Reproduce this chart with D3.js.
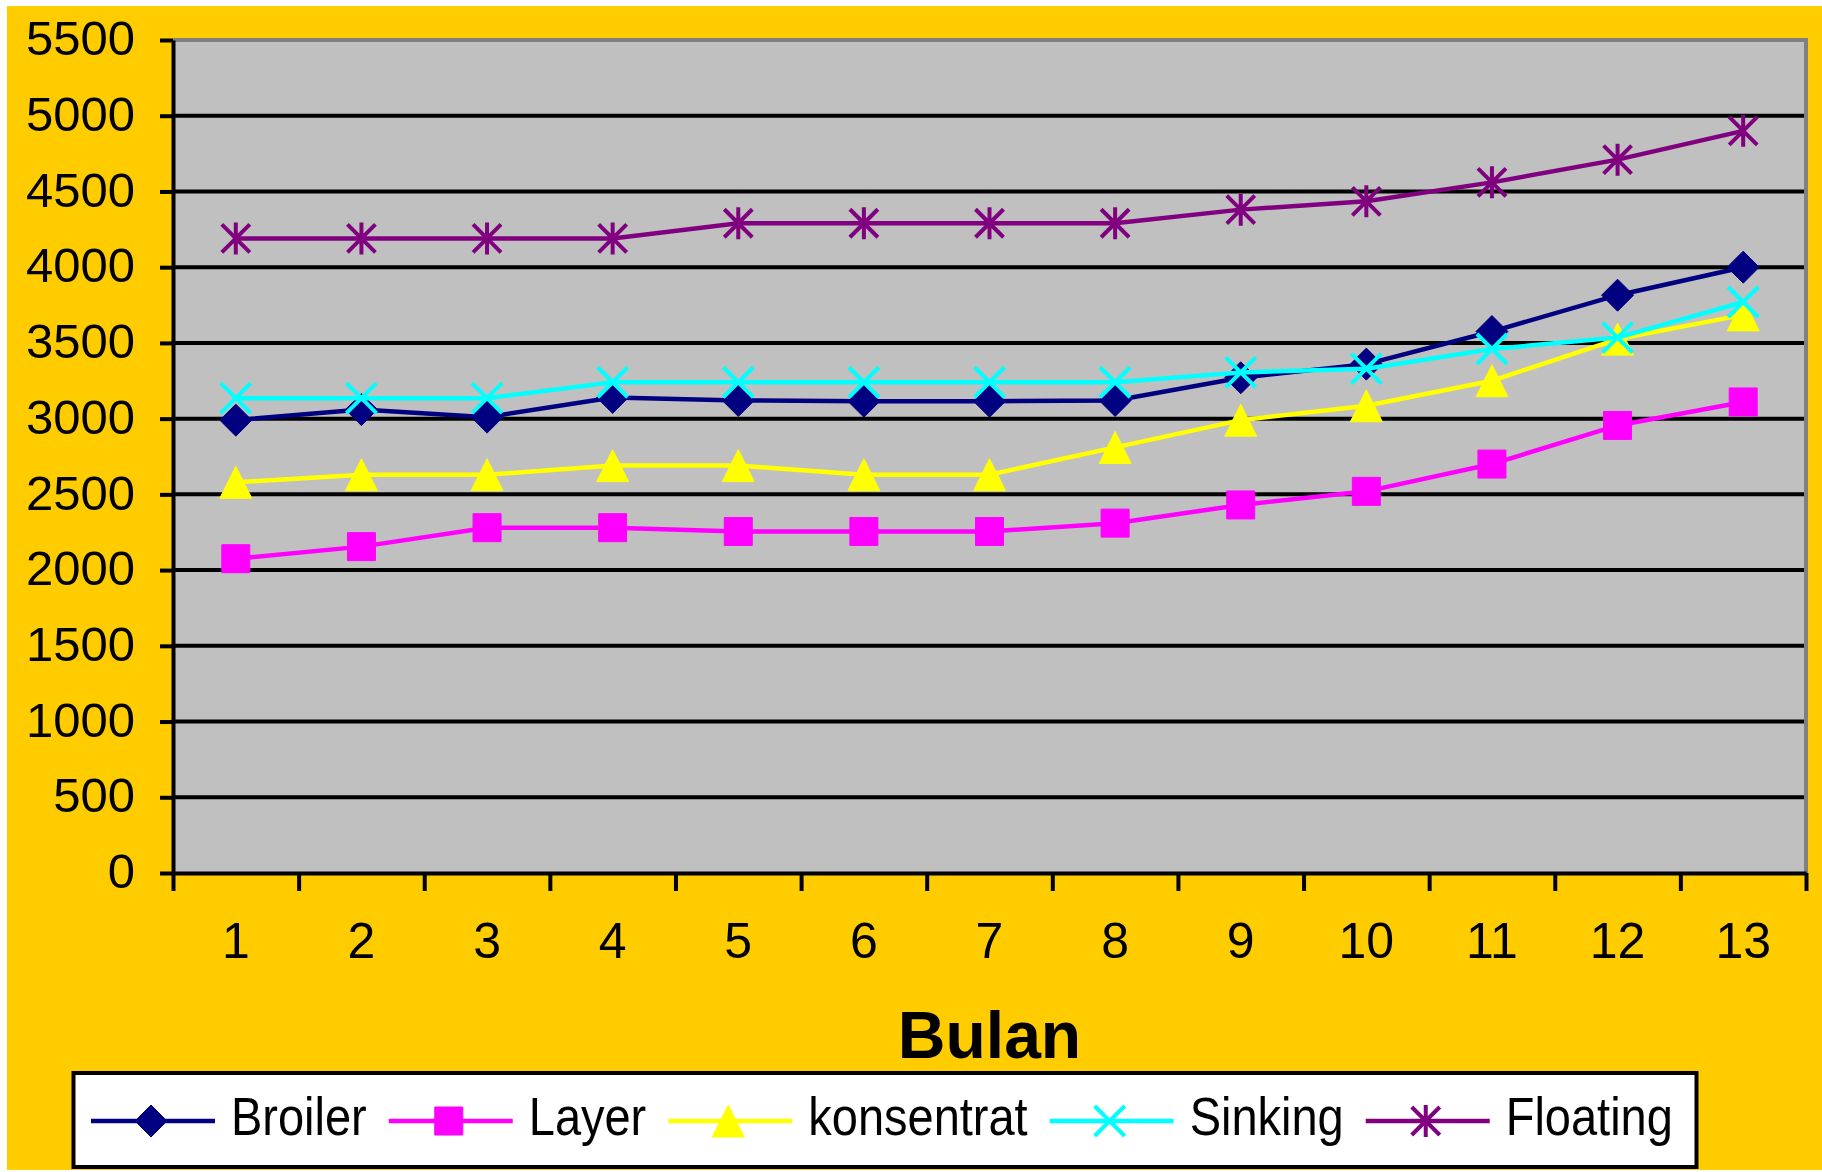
<!DOCTYPE html>
<html>
<head>
<meta charset="utf-8">
<script src="https://cdn.jsdelivr.net/npm/d3@7"></script>
<style>
  body { margin: 0; background: #fff; }
  text { font-family: "Liberation Sans", Arial, sans-serif; }
</style>
</head>
<body>
<div class="chart"></div>
<script>
// Data
const months = ["1", "2", "3", "4", "5", "6", "7", "8", "9", "10", "11", "12", "13"];
const broiler    = [2990, 3060, 3010, 3140, 3120, 3115, 3115, 3120, 3270, 3360, 3575, 3815, 4000];
const layer      = [2075, 2155, 2280, 2280, 2255, 2255, 2255, 2310, 2430, 2520, 2700, 2955, 3110];
const konsentrat = [2580, 2630, 2630, 2690, 2690, 2630, 2630, 2810, 2990, 3085, 3250, 3525, 3685];
const sinking    = [3135, 3135, 3135, 3240, 3240, 3240, 3240, 3240, 3305, 3330, 3460, 3535, 3770];
const floating   = [4190, 4190, 4190, 4190, 4290, 4290, 4290, 4290, 4380, 4435, 4560, 4710, 4900];
const seriesNames = ["Broiler", "Layer", "konsentrat", "Sinking", "Floating"];
const yTicks = [0, 500, 1000, 1500, 2000, 2500, 3000, 3500, 4000, 4500, 5000, 5500];
const xTitle = "Bulan";

const series = [
  {name: seriesNames[0], values: broiler,    color: "#000080", marker: "diamond"},
  {name: seriesNames[1], values: layer,      color: "#FF00FF", marker: "square"},
  {name: seriesNames[2], values: konsentrat, color: "#FFFF00", marker: "triangle"},
  {name: seriesNames[3], values: sinking,    color: "#00FFFF", marker: "x"},
  {name: seriesNames[4], values: floating,   color: "#800080", marker: "star"}
];

// Set up the chart
const W = 1822, H = 1172;
const margin = {top: 40, right: 16, bottom: 299, left: 173};
const width = W - margin.left - margin.right;
const height = H - margin.top - margin.bottom;

const x = d3.scaleBand().domain(months).range([0, width]);
const xEdge = d3.scaleLinear().domain([0, months.length]).range([0, width]);
const y = d3.scaleLinear().domain([0, 5500]).range([height, 0]);
const cx = (i) => x(months[i]) + x.bandwidth() / 2;

const svg = d3.select(".chart").append("svg")
    .attr("width", W)
    .attr("height", H);

// yellow chart area
svg.append("rect").attr("width", W).attr("height", H).attr("fill", "#fff");
svg.append("rect").attr("x", 7).attr("y", 6).attr("width", W - 7).attr("height", H - 8).attr("fill", "#FFCC00");

const g = svg.append("g")
    .attr("transform", "translate(" + margin.left + "," + margin.top + ")");

// plot area
g.append("rect").attr("width", width).attr("height", height).attr("fill", "#C0C0C0");
g.append("path")
    .attr("d", "M0,0H" + width + "V" + height)
    .attr("fill", "none").attr("stroke", "#808080").attr("stroke-width", 4);

// gridlines
g.append("g").selectAll("line")
    .data(yTicks.filter(t => t > 0 && t < 5500))
    .join("line")
    .attr("x1", 0).attr("x2", width - 2)
    .attr("y1", d => y(d)).attr("y2", d => y(d))
    .attr("stroke", "#000").attr("stroke-width", 4);

// y axis
const yAxis = g.append("g")
    .call(d3.axisLeft(y).tickValues(yTicks).tickFormat(d3.format("d"))
      .tickSize(13).tickSizeOuter(0).tickPadding(25));
yAxis.select(".domain").attr("stroke", "#000").attr("stroke-width", 4);
yAxis.selectAll(".tick line").attr("stroke", "#000").attr("stroke-width", 4);
yAxis.selectAll(".tick text")
    .attr("font-size", 49).attr("fill", "#000")
    .attr("font-family", "Liberation Sans, Arial, sans-serif")
    .attr("dy", "0.3em");

// x axis: ticks on category edges, labels in the middle
const xAxis = g.append("g")
    .attr("transform", "translate(0," + height + ")")
    .call(d3.axisBottom(xEdge).tickValues(d3.range(0, months.length + 1)).tickSize(18).tickSizeOuter(0).tickFormat(""));
xAxis.select(".domain").attr("stroke", "#000").attr("stroke-width", 4);
xAxis.selectAll(".tick line").attr("stroke", "#000").attr("stroke-width", 4);

g.append("g").selectAll("text")
    .data(months)
    .join("text")
    .attr("x", d => x(d) + x.bandwidth() / 2)
    .attr("y", height + 85)
    .attr("text-anchor", "middle")
    .attr("font-size", 50)
    .text(d => d);

// axis title
g.append("text")
    .attr("x", width / 2)
    .attr("y", height + 185)
    .attr("text-anchor", "middle")
    .attr("font-size", 66)
    .attr("font-weight", "bold")
    .text(xTitle);

// marker shapes
function markerPath(type) {
  const s = 16;
  if (type === "diamond") return `M0,${-s}L${s},0L0,${s}L${-s},0Z`;
  if (type === "square") return `M-14,-14H14V14H-14Z`;
  if (type === "triangle") return `M0,${-s}L${s},${s}L${-s},${s}Z`;
  if (type === "x") return `M-15,-15L15,15M-15,15L15,-15`;
  return `M-14,-14L14,14M-14,14L14,-14M0,-16V16`;
}
function drawMarker(sel, s) {
  const stroked = s.marker === "x" || s.marker === "star";
  sel.attr("d", markerPath(s.marker))
    .attr("fill", stroked ? "none" : s.color)
    .attr("stroke", s.color)
    .attr("stroke-width", stroked ? 4 : 1);
}

// lines + markers
const line = d3.line().x((d, i) => cx(i)).y(d => y(d));

series.forEach(s => {
  const sg = g.append("g");
  sg.append("path")
      .datum(s.values)
      .attr("fill", "none")
      .attr("stroke", s.color)
      .attr("stroke-width", 4.5)
      .attr("d", line);
  sg.selectAll(".m")
      .data(s.values)
      .join("path")
      .attr("class", "m")
      .attr("transform", (d, i) => "translate(" + cx(i) + "," + y(d) + ")")
      .call(drawMarker, s);
});

// legend
const legend = svg.append("g");
legend.append("rect")
    .attr("x", 73.5).attr("y", 1073).attr("width", 1623).attr("height", 94)
    .attr("fill", "#fff").attr("stroke", "#000").attr("stroke-width", 4);

const textScale = 0.87;
let lx = 91;
series.forEach(s => {
  const it = legend.append("g");
  it.append("line")
      .attr("x1", lx).attr("x2", lx + 124)
      .attr("y1", 1121).attr("y2", 1121)
      .attr("stroke", s.color).attr("stroke-width", 4.5);
  it.append("path")
      .attr("transform", "translate(" + (lx + 60) + ",1121)")
      .call(drawMarker, s);
  const tx = lx + 140;
  const t = it.append("text")
      .attr("transform", "translate(" + tx + ",1135) scale(" + textScale + ",1)")
      .attr("font-size", 54)
      .text(s.name);
  const w = t.node().getComputedTextLength() * textScale;
  lx = tx + w + 22;
});
</script>
</body>
</html>
